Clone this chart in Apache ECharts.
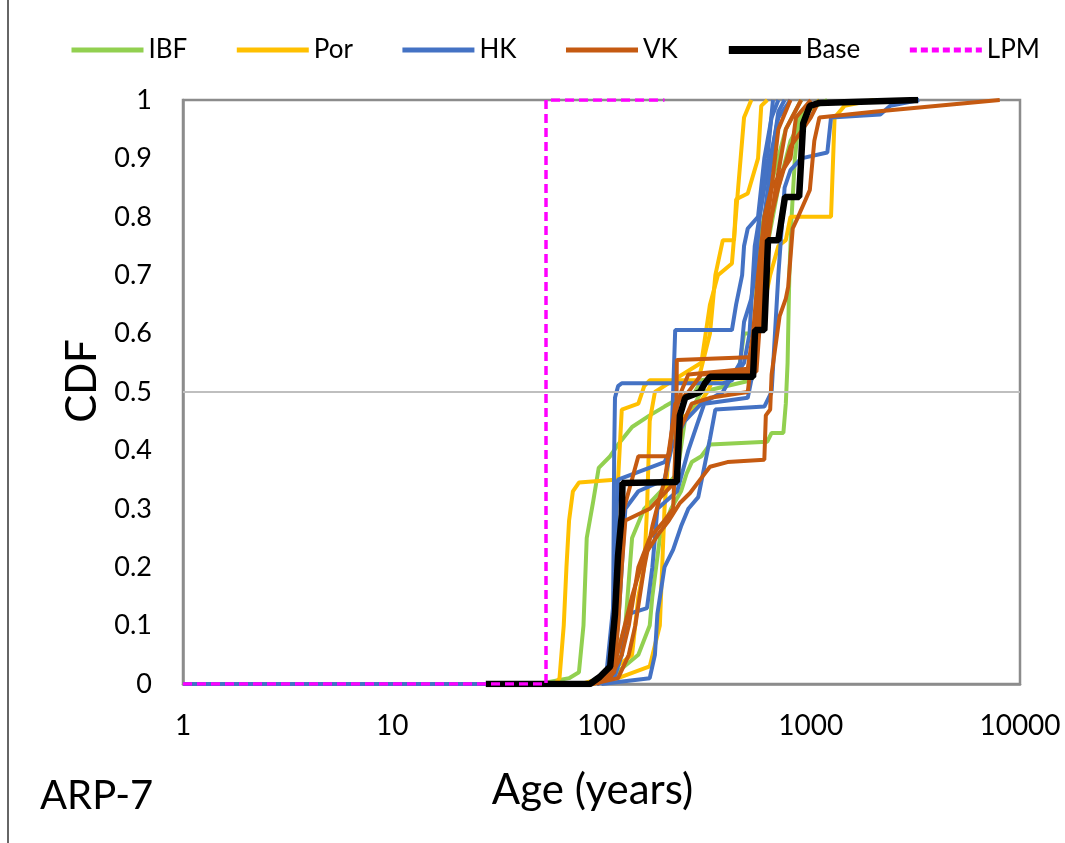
<!DOCTYPE html>
<html>
<head>
<meta charset="utf-8">
<script src="https://cdn.jsdelivr.net/npm/echarts@6/dist/echarts.min.js"></script>
<style>html,body{margin:0;padding:0;background:#fff}#c{width:1065px;height:843px}</style>
</head>
<body>
<div id="c"></div>
<script>
// ---- Data (age in years, CDF) ----
const xTicks = [1, 10, 100, 1000, 10000];
const yTicks = [0, 0.1, 0.2, 0.3, 0.4, 0.5, 0.6, 0.7, 0.8, 0.9, 1];
const groupNames = ['IBF', 'Por', 'HK', 'VK', 'Base', 'LPM'];

const ibf1 = [[1,0],[50,0],[70,0.01],[78,0.02],[82,0.1],[85,0.25],[91,0.31],[97,0.37],[110,0.39],[120,0.41],[140,0.44],[170,0.46],[200,0.475],[237,0.49],[280,0.5],[300,0.52],[450,0.53],[480,0.6],[540,0.6],[560,0.75],[640,0.85],[760,0.95],[900,1]];
const ibf2 = [[80,0],[110,0.01],[150,0.05],[170,0.1],[175,0.15],[190,0.25],[215,0.3],[240,0.33],[255,0.36],[270,0.38],[300,0.39],[330,0.41],[620,0.415],[650,0.43],[740,0.43],[760,0.48],[775,0.55],[790,0.7],[810,0.8],[840,0.9],[880,0.97],[1100,1]];
const ibf3 = [[90,0],[110,0.01],[130,0.1],[140,0.25],[160,0.3],[230,0.36],[250,0.45],[300,0.5],[520,0.52],[560,0.6],[620,0.75],[700,0.85],[800,0.93],[950,0.98],[1200,1]];

const por1 = [[1,0],[60,0],[63,0.01],[66,0.1],[68,0.2],[70,0.28],[73,0.33],[78,0.345],[120,0.35],[125,0.47],[150,0.48],[160,0.51],[170,0.52],[290,0.52],[330,0.6],[350,0.7],[380,0.76],[430,0.76],[440,0.83],[500,0.84],[560,0.9],[580,0.99],[620,1]];
const por2 = [[80,0],[100,0.01],[140,0.05],[150,0.15],[160,0.2],[165,0.3],[170,0.45],[180,0.5],[220,0.52],[300,0.55],[330,0.65],[360,0.7],[420,0.72],[450,0.85],[480,0.97],[520,1]];
const por3 = [[90,0],[120,0.01],[170,0.03],[190,0.1],[200,0.3],[210,0.4],[230,0.45],[280,0.47],[320,0.5],[340,0.52],[520,0.53],[560,0.6],[640,0.7],[700,0.75],[760,0.76],[800,0.8],[1250,0.8],[1300,0.97],[1450,0.99],[2000,1]];

const hk1 = [[1,0],[85,0],[105,0.01],[113,0.03],[114,0.2],[115,0.4],[116,0.49],[120,0.51],[125,0.515],[380,0.515],[420,0.52],[480,0.55],[510,0.6],[540,0.75],[600,0.85],[700,0.97],[800,1]];
const hk2 = [[95,0],[110,0.01],[120,0.1],[125,0.2],[130,0.3],[150,0.33],[200,0.35],[215,0.4],[220,0.5],[225,0.606],[420,0.606],[440,0.65],[470,0.7],[480,0.75],[500,0.78],[560,0.8],[600,0.9],[650,0.97],[700,1]];
const hk3 = [[100,0],[170,0.01],[180,0.05],[185,0.12],[200,0.2],[220,0.23],[240,0.27],[260,0.3],[290,0.32],[330,0.42],[350,0.47],[600,0.475],[650,0.5],[700,0.7],[750,0.85],[800,0.88],[900,0.9],[1200,0.91],[1250,0.97],[2150,0.975],[2400,0.99],[3300,1]];
const hk4 = [[95,0],[115,0.01],[125,0.05],[130,0.1],[135,0.12],[165,0.13],[175,0.2],[185,0.3],[230,0.33],[260,0.4],[290,0.45],[310,0.48],[500,0.49],[540,0.55],[570,0.7],[600,0.8],[650,0.9],[700,0.98],[750,1]];
const hk5 = [[90,0],[105,0.01],[115,0.15],[118,0.3],[120,0.35],[200,0.38],[250,0.45],[300,0.48],[380,0.5],[460,0.55],[480,0.62],[520,0.66],[540,0.7],[570,0.8],[620,0.9],[660,1]];

const vk1 = [[90,0],[110,0.01],[125,0.05],[135,0.1],[150,0.2],[170,0.25],[200,0.28],[220,0.3],[228,0.45],[229,0.555],[540,0.56],[560,0.65],[600,0.75],[650,0.85],[700,0.95],[800,1]];
const vk2 = [[85,0],[100,0.01],[115,0.03],[125,0.08],[140,0.15],[160,0.22],[190,0.26],[210,0.28],[237,0.31],[265,0.327],[296,0.35],[330,0.372],[400,0.38],[600,0.384],[610,0.46],[640,0.47],[650,0.53],[710,0.63],[760,0.66],[780,0.68],[820,0.78],[870,0.8],[990,0.846],[1040,0.93],[1100,0.97],[2000,0.98],[3500,0.988],[8000,1]];
const vk3 = [[90,0],[120,0.01],[135,0.05],[145,0.1],[160,0.2],[175,0.27],[190,0.32],[201,0.35],[210,0.4],[220,0.45],[240,0.5],[260,0.53],[500,0.54],[530,0.6],[560,0.7],[600,0.8],[650,0.85],[800,0.9],[850,0.97],[1000,1]];
const vk4 = [[88,0],[100,0.01],[112,0.03],[118,0.15],[122,0.25],[128,0.3],[150,0.39],[210,0.39],[225,0.48],[260,0.5],[300,0.53],[550,0.535],[580,0.65],[620,0.75],[680,0.85],[760,0.95],[900,1]];
const vk5 = [[95,0],[115,0.02],[120,0.1],[125,0.2],[130,0.28],[170,0.3],[230,0.35],[240,0.44],[270,0.48],[330,0.49],[500,0.5],[520,0.55],[560,0.62],[600,0.75],[700,0.85],[800,0.92],[1000,0.97],[1100,1]];

const base = [[28,0],[88,0],[98,0.012],[110,0.03],[116,0.12],[120,0.22],[125,0.29],[126,0.344],[229,0.346],[237,0.46],[251,0.49],[296,0.5],[312,0.515],[330,0.526],[530,0.526],[542,0.606],[600,0.606],[625,0.76],[700,0.76],[753,0.834],[880,0.834],[920,0.96],[990,0.99],[1100,0.995],[3260,1]];
const lpm = [[1,0],[54.3,0],[54.3,1],[200,1]];

const groups = {
  IBF: { color: '#92D050', width: 4, legendWidth: 5, type: 'solid', lines: [ibf1, ibf2, ibf3] },
  Por: { color: '#FFC000', width: 4, legendWidth: 5, type: 'solid', lines: [por1, por2, por3] },
  HK:  { color: '#4472C4', width: 4, legendWidth: 5, type: 'solid', lines: [hk1, hk2, hk3, hk4, hk5] },
  VK:  { color: '#C55A11', width: 4, legendWidth: 5, type: 'solid', lines: [vk1, vk2, vk3, vk4, vk5] },
  Base:{ color: '#000000', width: 6.5, legendWidth: 8, type: 'solid', lines: [base] },
  LPM: { color: '#FF00FF', width: 3.5, legendWidth: 5, type: [9, 5], lines: [lpm] }
};

const FONT = 'Lato, "Open Sans", sans-serif';
const series = [];
groupNames.forEach(name => {
  const g = groups[name];
  g.lines.forEach(d => {
    series.push({
      name: name, type: 'line', data: d, symbol: 'none', showSymbol: false,
      lineStyle: { color: g.color, width: g.width, type: g.type },
      itemStyle: { color: g.color },
      emphasis: { disabled: true }, animation: false
    });
  });
});
// gridline at 0.5
series[0].markLine = {
  silent: true, symbol: 'none', label: { show: false }, animation: false,
  lineStyle: { color: '#BFBFBF', width: 2, type: 'solid' },
  data: [{ yAxis: 0.5 }]
};

const legendData = groupNames.map(n => ({
  name: n,
  itemStyle: { opacity: 0 },
  lineStyle: { width: groups[n].legendWidth, color: groups[n].color, type: groups[n].type === 'solid' ? 'solid' : [7, 4] }
}));

const chart = echarts.init(document.getElementById('c'), null, { renderer: 'canvas' });
chart.setOption({
  backgroundColor: '#fff',
  animation: false,
  textStyle: { fontFamily: FONT },
  legend: {
    data: legendData, top: 32, left: 64, itemWidth: 72, itemHeight: 14, itemGap: 47,
    itemStyle: { opacity: 0 },
    textStyle: { fontSize: 26, color: '#000', fontFamily: FONT }
  },
  grid: { left: 183, right: 45, top: 100, bottom: 159, show: true, borderColor: '#8C8C8C', borderWidth: 2.5, containLabel: false },
  xAxis: {
    type: 'log', logBase: 10, min: xTicks[0], max: xTicks[xTicks.length - 1],
    name: 'Age (years)', nameLocation: 'middle', nameGap: 85,
    nameTextStyle: { fontSize: 42, color: '#000', fontFamily: FONT, padding: [0, 18, 0, 0] },
    axisLine: { show: true, lineStyle: { color: '#8C8C8C', width: 2.5 } },
    axisTick: { show: false }, minorTick: { show: false },
    splitLine: { show: false }, minorSplitLine: { show: false },
    axisLabel: { fontSize: 28, color: '#000', margin: 28, fontFamily: FONT,
      formatter: v => String(Math.round(v)) }
  },
  yAxis: {
    type: 'value', min: yTicks[0], max: yTicks[yTicks.length - 1], interval: 0.1,
    name: 'CDF', nameLocation: 'middle', nameGap: 80,
    nameTextStyle: { fontSize: 42, color: '#000', fontFamily: FONT, padding: [0, 0, 0, 22] },
    axisLine: { show: true, lineStyle: { color: '#8C8C8C', width: 2.5 } },
    axisTick: { show: false },
    splitLine: { show: false },
    axisLabel: { fontSize: 27, color: '#000', margin: 31, fontFamily: FONT,
      formatter: v => String(+v.toFixed(1)) }
  },
  graphic: [
    { type: 'text', left: 40, top: 776, style: { text: 'ARP-7', fontSize: 40, fill: '#000', fontFamily: FONT } },
    { type: 'line', shape: { x1: 8, y1: 0, x2: 8, y2: 843 }, style: { stroke: '#333', lineWidth: 1.5 }, silent: true }
  ],
  series: series
});
</script>
</body>
</html>
